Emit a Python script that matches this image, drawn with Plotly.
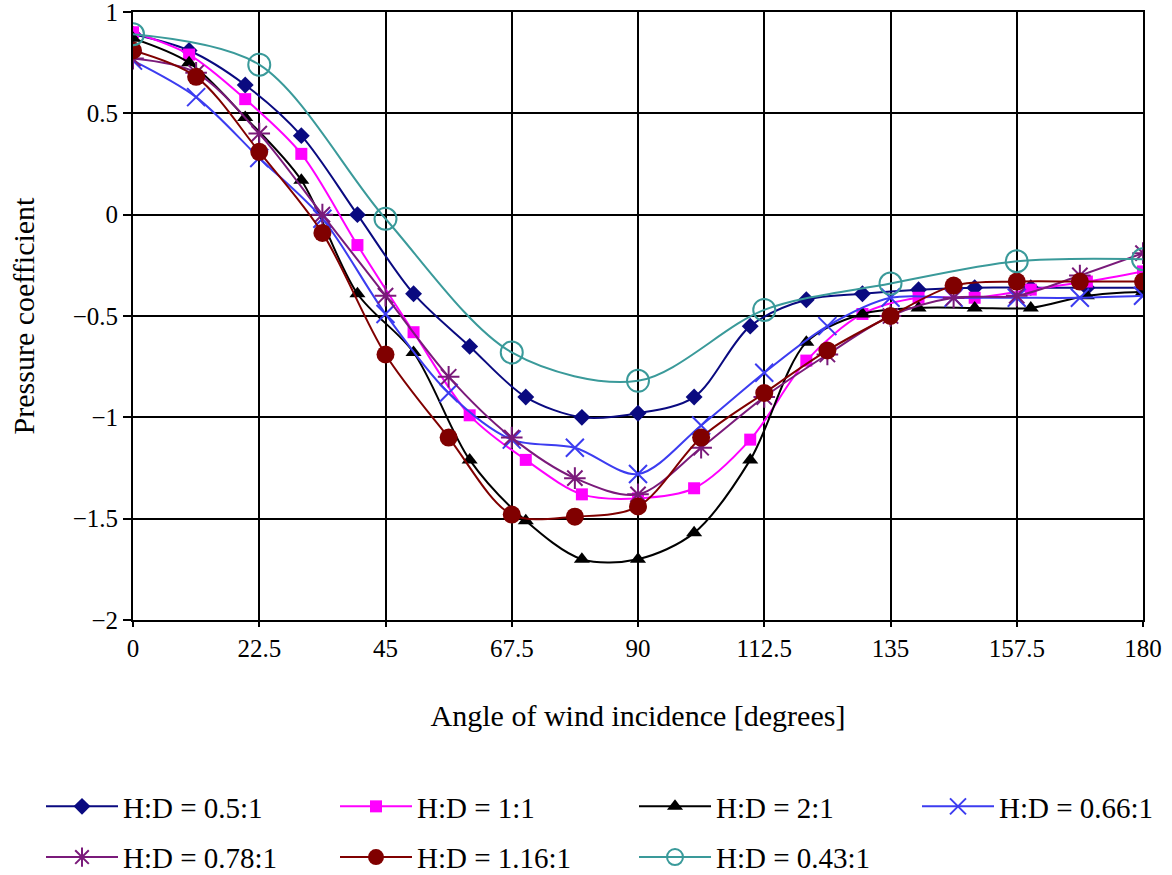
import plotly.graph_objects as go

# ---- data ----
angles_10 = [0, 10, 20, 30, 40, 50, 60, 70, 80, 90, 100, 110, 120, 130, 140, 150, 160, 170, 180]
angles_11 = [0, 11.25, 22.5, 33.75, 45, 56.25, 67.5, 78.75, 90, 101.25, 112.5, 123.75, 135,
             146.25, 157.5, 168.75, 180]
angles_22 = [0, 22.5, 45, 67.5, 90, 112.5, 135, 157.5, 180]

hd_05 = [0.89, 0.81, 0.64, 0.39, 0.00, -0.39, -0.65, -0.90, -1.00, -0.98, -0.90, -0.55, -0.42,
         -0.39, -0.37, -0.36, -0.36, -0.36, -0.36]
hd_1 = [0.90, 0.79, 0.57, 0.30, -0.15, -0.58, -0.99, -1.21, -1.38, -1.40, -1.35, -1.11, -0.72,
        -0.49, -0.41, -0.41, -0.37, -0.33, -0.28]
hd_2 = [0.87, 0.75, 0.48, 0.17, -0.39, -0.68, -1.21, -1.51, -1.70, -1.70, -1.57, -1.21, -0.63,
        -0.49, -0.46, -0.46, -0.46, -0.40, -0.38]
hd_066 = [0.76, 0.58, 0.28, -0.02, -0.49, -0.88, -1.11, -1.15, -1.28, -1.04, -0.78, -0.55, -0.41,
          -0.41, -0.41, -0.41, -0.40]
hd_078 = [0.77, 0.70, 0.40, 0.00, -0.40, -0.80, -1.10, -1.30, -1.38, -1.15, -0.90, -0.69, -0.50,
          -0.41, -0.40, -0.30, -0.19]
hd_116 = [0.81, 0.68, 0.31, -0.09, -0.69, -1.10, -1.48, -1.49, -1.44, -1.10, -0.88, -0.67, -0.50,
          -0.35, -0.33, -0.33, -0.33]
hd_043 = [0.89, 0.74, -0.02, -0.68, -0.82, -0.47, -0.34, -0.23, -0.22]

x_ticks = [0, 22.5, 45, 67.5, 90, 112.5, 135, 157.5, 180]
x_tick_labels = ["0", "22.5", "45", "67.5", "90", "112.5", "135", "157.5", "180"]
y_ticks = [1, 0.5, 0, -0.5, -1, -1.5, -2]
y_tick_labels = ["1", "0.5", "0", "\u22120.5", "\u22121", "\u22121.5", "\u22122"]

FONT = "Liberation Serif, Times New Roman, serif"

series = [
    # name, x, y, color, symbol, size, legend, marker line width
    ("H:D = 0.5:1", angles_10, hd_05, "#0a0a80", "diamond", 13, "legend", 0),
    ("H:D = 1:1", angles_10, hd_1, "#ff00ff", "square", 12, "legend2", 0),
    ("H:D = 2:1", angles_10, hd_2, "#000000", "triangle-up", 14, "legend3", 0),
    ("H:D = 0.66:1", angles_11, hd_066, "#3c3cf0", "x-thin", 18, "legend4", 2),
    ("H:D = 0.78:1", angles_11, hd_078, "#7a1a7a", "asterisk", 18, "legend", 2),
    ("H:D = 1.16:1", angles_11, hd_116, "#800000", "circle", 18, "legend2", 0),
    ("H:D = 0.43:1", angles_22, hd_043, "#3a9a9a", "circle-open", 22, "legend3", 2),
]

fig = go.Figure()
for name, xs, ys, col, sym, sz, leg, mlw in series:
    fig.add_trace(go.Scatter(
        x=xs, y=ys, name=name, mode="lines+markers",
        line=dict(color=col, width=2, shape="spline", smoothing=0.9),
        marker=dict(symbol=sym, size=sz, color=col, line=dict(color=col, width=mlw)),
        legend=leg, legendgroup=name,
    ))

W, H = 1172, 875
ML, MR, MT, MB = 133, 29, 12, 255
PW, PH = W - ML - MR, H - MT - MB


def px_to_paper_x(px):
    return (px - ML) / PW


def px_to_paper_y(py):
    return (H - MB - py) / PH


leg_common = dict(
    font=dict(family=FONT, size=29, color="black"),
    bgcolor="rgba(0,0,0,0)", borderwidth=0, itemwidth=72,
    tracegroupgap=10, orientation="v", xanchor="left", yanchor="top",
    y=px_to_paper_y(781),
)
col_x = [41, 335, 634, 917]
fig.update_layout(
    width=W, height=H,
    margin=dict(l=ML, r=MR, t=MT, b=MB, autoexpand=False),
    paper_bgcolor="white", plot_bgcolor="white",
    font=dict(family=FONT, size=25, color="black"),
    legend=dict(leg_common, x=px_to_paper_x(col_x[0])),
    legend2=dict(leg_common, x=px_to_paper_x(col_x[1])),
    legend3=dict(leg_common, x=px_to_paper_x(col_x[2])),
    legend4=dict(leg_common, x=px_to_paper_x(col_x[3])),
    xaxis=dict(
        range=[0, 180], tickvals=x_ticks, ticktext=x_tick_labels,
        showgrid=True, gridcolor="black", gridwidth=2,
        showline=True, linecolor="black", linewidth=2, mirror=True,
        ticks="outside", ticklen=5, tickwidth=2, tickcolor="black",
        tickfont=dict(family=FONT, size=25, color="black"),
        ticklabeloverflow="allow",
        title=dict(text="Angle of wind incidence [degrees]", standoff=44,
                   font=dict(family=FONT, size=30, color="black")),
        zeroline=False,
    ),
    yaxis=dict(
        range=[-2, 1], tickvals=y_ticks, ticktext=y_tick_labels,
        showgrid=True, gridcolor="black", gridwidth=2,
        showline=True, linecolor="black", linewidth=2, mirror=True,
        ticks="outside", ticklen=8, tickwidth=2, tickcolor="black",
        tickfont=dict(family=FONT, size=25, color="black"),
        ticklabeloverflow="allow",
        title=dict(text="Pressure coefficient", standoff=29,
                   font=dict(family=FONT, size=30, color="black")),
        zeroline=False,
    ),
)

fig.write_html("out.html")
